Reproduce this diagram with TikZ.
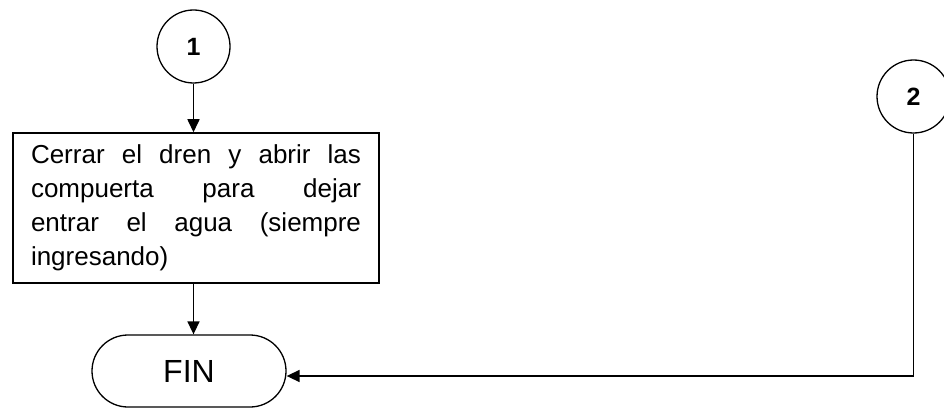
\documentclass[tikz,border=0pt]{standalone}
\usepackage{fontspec}
\setmainfont{Liberation Sans}
\usetikzlibrary{arrows.meta,shapes.misc}

\begin{document}
\begin{tikzpicture}[
    x=1pt, y=-1pt,
    connector/.style={circle, draw, line width=1.3pt, minimum size=73pt, inner sep=0pt, font=\fontsize{25}{30}\selectfont\bfseries},
    process/.style={rectangle, draw, line width=1.5pt, minimum width=366pt, minimum height=150pt, text width=330pt, align=justify, inner sep=0pt, font=\fontsize{26}{34}\selectfont},
    terminal/.style={rounded rectangle, draw, line width=1.3pt, minimum width=194pt, minimum height=72pt, inner sep=0pt, font=\fontsize{32}{36}\selectfont},
    flow/.style={line width=1.6pt, -{Triangle[width=12pt,length=13pt]}}
]
    \useasboundingbox (0,0) rectangle (944,409);

    % Connectors
    \node[connector] (c1) at (193.5,46.5) {1};
    \node[connector] (c2) at (913.5,96.5) {2};

    % Process and end
    \node[process] (cerrar) at (196,208) {\hyphenpenalty=10000
        Cerrar el dren y abrir las\linebreak
        compuerta para dejar\linebreak
        entrar el agua (siempre\linebreak
        ingresando)};
    \node[terminal] (fin) at (189,371) {FIN};

    % Flow lines
    \draw[flow] (c1.south) -- (c1.south |- cerrar.north);
    \draw[flow] (cerrar.south -| c1.south) -- (fin.north -| c1.south);
    \draw[flow] (c2.south) |- ([yshift=-5pt]fin.east);
\end{tikzpicture}
\end{document}
